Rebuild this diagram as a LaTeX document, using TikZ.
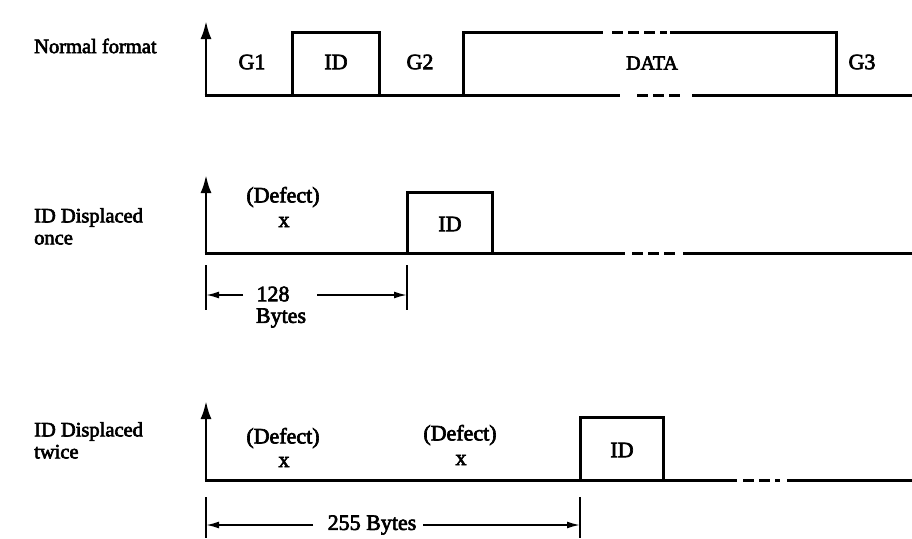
\documentclass[tikz,border=0pt]{standalone}
\usepackage{fontspec}
\setmainfont{Liberation Serif}
\newfontfamily\medserif{Liberation Serif}[FakeBold=3]
\usetikzlibrary{arrows.meta}
\tikzset{
  wave/.style={line width=3pt, line cap=butt, line join=miter},
  gapdash/.style={line width=3pt, dash pattern=on 11pt off 5pt},
  axis/.style={line width=2.6pt, -{Latex[length=18pt,width=11pt]}},
  dimline/.style={line width=1.8pt},
  dimarrow/.style={line width=1.8pt, -{Latex[length=13pt,width=7pt]}},
  lbl/.style={font=\medserif\fontsize{20.5}{22}\selectfont, anchor=west, inner sep=0pt},
  txt/.style={font=\medserif\fontsize{22}{24}\selectfont, inner sep=0pt}
}
\begin{document}
\begin{tikzpicture}[x=1pt,y=-1pt]
\useasboundingbox (0,0) rectangle (912,538);

% ---------- Row 1: Normal format ----------
\node[lbl] (l1) at (34,46) {Normal format};
\coordinate (a1b) at (206,95);
\coordinate (a1t) at (206,21);
\draw[axis] (a1b) -- (a1t);
\draw[wave] (204.5,95) -- (620,95);
\draw[gapdash] (637,95) -- (680,95);
\draw[wave] (692,95) -- (912,95);
\draw[wave] (292,95) -- (292,32) -- (379,32) -- (379,95);
\draw[wave] (463,95) -- (463,32) -- (603,32);
\draw[gapdash] (612,32) -- (667,32);
\draw[wave] (670,32) -- (836,32) -- (836,95);
\node[txt] (g1) at (252,62) {G1};
\node[txt] (id1) at (336,62) {ID};
\node[txt] (g2) at (420,62) {G2};
\node[txt, font=\medserif\fontsize{20}{22}\selectfont] (data) at (652,63) {DATA};
\node[txt] (g3) at (862,62) {G3};

% ---------- Row 2: ID displaced once ----------
\node[lbl, align=left, anchor=north west] (l2) at (34,208) {ID Displaced\\once};
\coordinate (a2b) at (206,253);
\coordinate (a2t) at (206,175);
\draw[axis] (a2b) -- (a2t);
\draw[wave] (204.5,253) -- (625,253);
\draw[gapdash] (632,253) -- (677,253);
\draw[wave] (683,253) -- (912,253);
\draw[wave] (407,253) -- (407,192) -- (492,192) -- (492,253);
\node[txt] (d21) at (283,197) {(Defect)};
\node[txt] (x21) at (284,222) {x};
\node[txt] (id2) at (450,224) {ID};
% dimension 128 Bytes
\coordinate (t21a) at (206,265); \coordinate (t21b) at (206,310);
\coordinate (t22a) at (407,265); \coordinate (t22b) at (407,310);
\draw[dimline] (t21a) -- (t21b);
\draw[dimline] (t22a) -- (t22b);
\node[txt] (n128) at (273,294) {128};
\node[txt] (by1) at (281,318) {Bytes};
\coordinate (d2l) at (206,295); \coordinate (d2ls) at (243,295);
\coordinate (d2r) at (407,295); \coordinate (d2rs) at (317,295);
\draw[dimarrow] (d2ls) -- (d2l);
\draw[dimarrow] (d2rs) -- (d2r);

% ---------- Row 3: ID displaced twice ----------
\node[lbl, align=left, anchor=north west] (l3) at (34,422) {ID Displaced\\twice};
\coordinate (a3b) at (206,480);
\coordinate (a3t) at (206,401);
\draw[axis] (a3b) -- (a3t);
\draw[wave] (204.5,480) -- (737,480);
\draw[gapdash] (743,480) -- (780,480);
\draw[wave] (787,480) -- (912,480);
\draw[wave] (580,480) -- (580,417) -- (663,417) -- (663,480);
\node[txt] (d31) at (283,438) {(Defect)};
\node[txt] (x31) at (284,462) {x};
\node[txt] (d32) at (460,435) {(Defect)};
\node[txt] (x32) at (461,460) {x};
\node[txt] (id3) at (622,450) {ID};
% dimension 255 Bytes
\coordinate (t31a) at (206,497); \coordinate (t31b) at (206,538);
\coordinate (t32a) at (580,497); \coordinate (t32b) at (580,538);
\draw[dimline] (t31a) -- (t31b);
\draw[dimline] (t32a) -- (t32b);
\node[txt] (n255) at (372,525) {255 Bytes};
\coordinate (d3l) at (206,525); \coordinate (d3ls) at (313,525);
\coordinate (d3r) at (580,525); \coordinate (d3rs) at (423,525);
\draw[dimarrow] (d3ls) -- (d3l);
\draw[dimarrow] (d3rs) -- (d3r);
\end{tikzpicture}
\end{document}
